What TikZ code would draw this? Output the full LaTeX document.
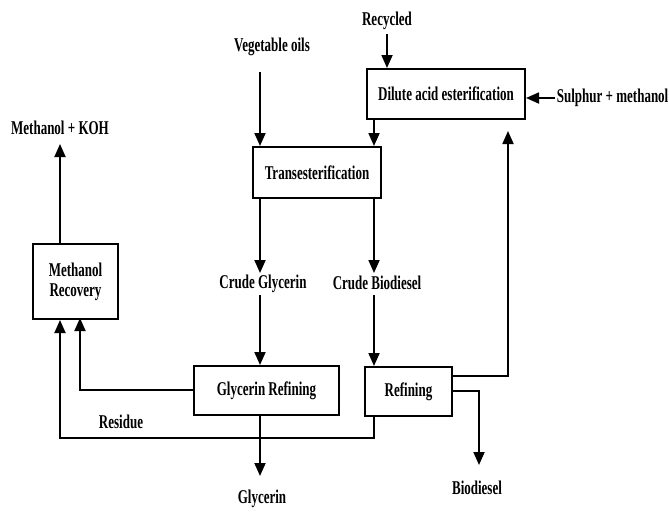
\documentclass[tikz,border=0pt]{standalone}
\usepackage{fontspec}
\usepackage{graphicx}
\setmainfont{Liberation Serif}
\usetikzlibrary{arrows.meta}
\newcommand{\Tx}[1]{\scalebox{1}[1.5]{#1}}
\begin{document}
\begin{tikzpicture}[x=1pt,y=-1pt,
  line width=1.8pt,
  arr/.style={-{Triangle[length=13pt,width=11pt]}},
  box/.style={draw,line width=2pt,inner sep=0pt,anchor=north west},
  lbl/.style={font=\fontsize{13}{15}\selectfont\bfseries,inner sep=1pt},
  lblbox/.style={font=\fontsize{13}{15}\selectfont\bfseries}]
\useasboundingbox (0,0) rectangle (669,515);
% boxes
\node[box,minimum width=158pt,minimum height=50pt] (dil) at (366,68) {};
\node[lblbox] at (dil.center) {\Tx{Dilute acid esterification}};
\node[box,minimum width=128pt,minimum height=51pt] (tra) at (252,146) {};
\node[lblbox] at (tra.center) {\Tx{Transesterification}};
\node[box,minimum width=85pt,minimum height=75pt] (mr) at (32,243) {};
\node[lblbox,align=center] at (mr.center) {\Tx{Methanol}\\[5pt]\Tx{Recovery}};
\node[box,minimum width=145pt,minimum height=49pt] (gr) at (193,365) {};
\node[lblbox] at (gr.center) {\Tx{Glycerin Refining}};
\node[box,minimum width=87pt,minimum height=49pt] (ref) at (364,366) {};
\node[lblbox] at (ref.center) {\Tx{Refining}};
% labels
\node[lbl] (mk) at (60,128) {\Tx{Methanol + KOH}};
\node[lbl] (veg) at (272,47) {\Tx{Vegetable oils}};
\node[lbl] (rec) at (387,21) {\Tx{Recycled}};
\node[lbl,anchor=west] (sul) at (555,98) {\Tx{Sulphur + methanol}};
\node[lbl] (cg) at (263,284) {\Tx{Crude Glycerin}};
\node[lbl] (cb) at (377,283) {\Tx{Crude Biodiesel}};
\node[lbl] (res) at (121,422) {\Tx{Residue}};
\node[lbl] (gly) at (262,499) {\Tx{Glycerin}};
\node[lbl] (bio) at (477,488) {\Tx{Biodiesel}};
% coordinates
\coordinate (vtop) at (260,72);
\coordinate (rtop) at (387,34);
\coordinate (dilbot) at (374,118);
\coordinate (tratop) at (374,146);
\coordinate (upend) at (508,131);
\coordinate (rr1) at (451,376);
\coordinate (rr2) at (451,391);
\coordinate (biotip) at (479,465);
\coordinate (glytip) at (260,476);
\coordinate (mktip) at (60,144);
% arrows
\draw[arr] (vtop) -- (vtop|-tra.north);
\draw[arr] (rtop) -- (rtop|-dil.north);
\draw[arr] (sul.west) -- (dil.east|-sul.west);
\draw[arr] (dilbot) -- (tratop);
\draw[arr] (tra.south-|vtop) -- (260,273);
\draw[arr] (tra.south-|tratop) -- (374,273);
\draw[arr] (260,295) -- (gr.north-|vtop);
\draw[arr] (374,295) -- (ref.north-|tratop);
\draw[arr] (gr.south-|vtop) -- (glytip);
\draw[arr] (rr1) -| (upend);
\draw[arr] (rr2) -| (biotip);
\draw[arr] (ref.south-|tratop) |- (60,438) -- (mr.south-|mktip);
\draw[arr] (gr.west|-0,390) -| (80,318);
\draw[arr] (mr.north-|mktip) -- (mktip);
\end{tikzpicture}
\end{document}
